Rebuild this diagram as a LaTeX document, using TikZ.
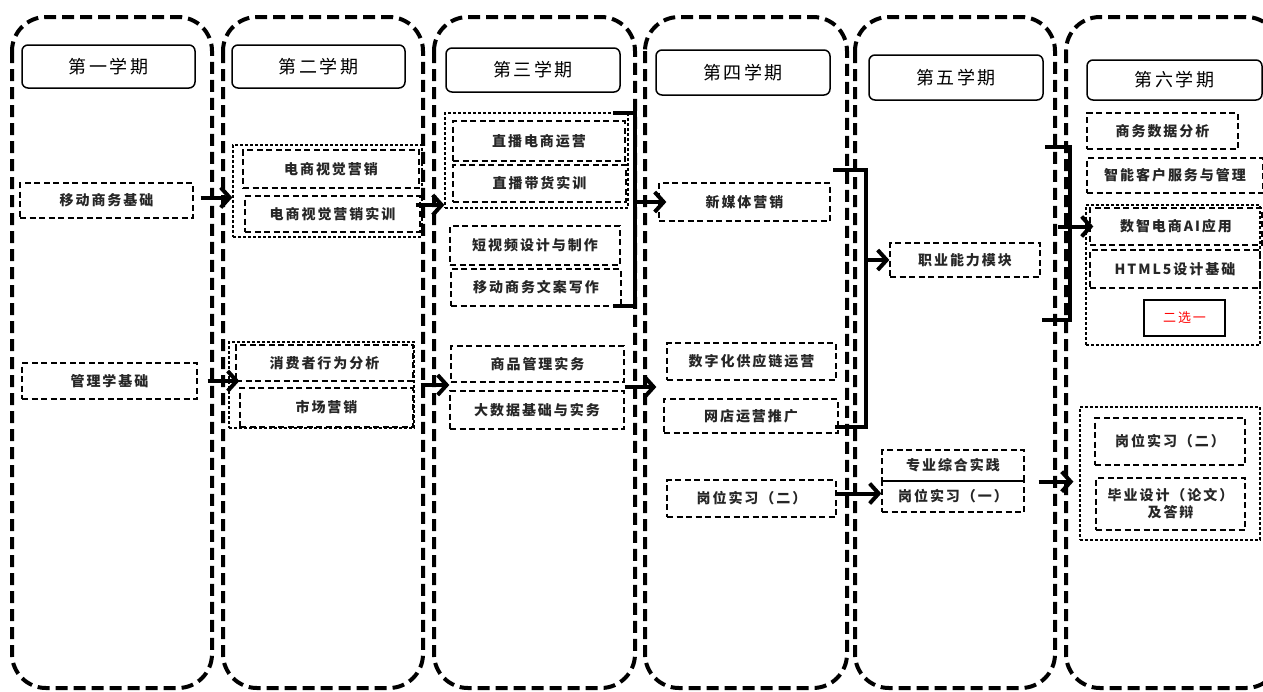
\documentclass[tikz,border=0pt]{standalone}
\usepackage{fontspec}
\setmainfont{Noto Sans CJK SC}
\newfontfamily\ls[LetterSpace=14]{Noto Sans CJK SC}
\usetikzlibrary{arrows.meta}
\begin{document}
\begin{tikzpicture}[x=1pt,y=-1pt,
  frame/.style={line width=4pt, dash pattern=on 12pt off 6pt, rounded corners=34pt},
  sz/.style 2 args={minimum width=#1pt, minimum height=#2pt},
  hbox/.style={draw, line width=1.5pt, rounded corners=6pt, inner sep=0pt, font=\ls\fontsize{18}{21}\selectfont},
  cbox/.style={draw, line width=1.3pt, dash pattern=on 6pt off 3.5pt, inner sep=0pt, font=\ls\bfseries\fontsize{14}{17}\selectfont, text=black!85},
  grp/.style={draw, line width=1.2pt, dash pattern=on 3pt off 2pt, inner sep=0pt},
  arr/.style={line width=4pt, -{Straight Barb[length=9pt,width=20pt]}},
  brk/.style={line width=4pt},
]
\useasboundingbox (0,0) rectangle (1263,691);
% semester frames
\draw[frame] (12,17) rectangle (212,688);
\draw[frame] (223,17) rectangle (423,688);
\draw[frame] (434,17) rectangle (635,688);
\draw[frame] (645,17) rectangle (847,688);
\draw[frame] (855,17) rectangle (1055,688);
\draw[frame] (1066,17) rectangle (1280,688);
% headings
\node[hbox, sz={173}{43}] (h1) at (108.5,66.5) {第一学期};
\node[hbox, sz={173}{43}] (h2) at (318.5,66.5) {第二学期};
\node[hbox, sz={174}{44}] (h3) at (533,70) {第三学期};
\node[hbox, sz={174}{45}] (h4) at (743,72.5) {第四学期};
\node[hbox, sz={174}{45}] (h5) at (956,77.5) {第五学期};
\node[hbox, sz={175}{40}] (h6) at (1174.5,80) {第六学期};
% column 1
\node[cbox, sz={173}{35}] (a1) at (106.5,200.5) {移动商务基础};
\node[cbox, sz={175}{36}] (a2) at (109.5,381) {管理学基础};
% column 2
\node[grp, sz={189}{92}] (g2a) at (327.5,191) {};
\node[cbox, sz={176}{38}] (b1) at (331,169) {电商视觉营销};
\node[cbox, sz={175}{36}] (b2) at (332.5,214) {电商视觉营销实训};
\node[grp, sz={185}{86}] (g2b) at (321.5,385) {};
\node[cbox, sz={177}{36}] (b3) at (324.5,363) {消费者行为分析};
\node[cbox, sz={173}{39}] (b4) at (326.5,407.5) {市场营销};
% column 3
\node[grp, sz={183}{95}] (g3) at (536.5,160.5) {};
\node[cbox, sz={172}{40}] (c1) at (539,141) {直播电商运营};
\node[cbox, sz={173}{37}] (c2) at (539.5,183.5) {直播带货实训};
\node[cbox, sz={170}{39}] (c3) at (535,245.5) {短视频设计与制作};
\node[cbox, sz={170}{37}] (c4) at (536,287.5) {移动商务文案写作};
\node[cbox, sz={173}{36}] (c5) at (537.5,364) {商品管理实务};
\node[cbox, sz={174}{38}] (c6) at (537,410) {大数据基础与实务};
% column 4
\node[cbox, sz={171}{38}] (d1) at (744.5,202) {新媒体营销};
\node[cbox, sz={169}{37}] (d2) at (751.5,361.5) {数字化供应链运营};
\node[cbox, sz={174}{34}] (d3) at (751,416) {网店运营推广};
\node[cbox, sz={169}{37}] (d4) at (751.5,498.5) {岗位实习（二）};
% column 5
\node[cbox, sz={150}{34}] (e1) at (965,260) {职业能力模块};
\node[cbox, sz={142}{31}] (e2) at (953,465.5) {专业综合实践};
\node[cbox, sz={142}{31}] (e3) at (953,496.5) {岗位实习（一）};
% column 6
\node[cbox, sz={151}{36}] (f1) at (1162.5,131) {商务数据分析};
\node[cbox, sz={176}{35}] (f2) at (1175,175.5) {智能客户服务与管理};
\node[grp, sz={174}{140}] (g6a) at (1173,275) {};
\node[cbox, sz={172}{37}] (f3) at (1176,226.5) {数智电商AI应用};
\node[cbox, sz={170}{38}] (f4) at (1175,269) {HTML5设计基础};
\node[draw, line width=1.5pt, sz={81}{36}, inner sep=0pt, text=red, font=\ls\fontsize{13}{16}\selectfont] (f5) at (1184.5,318) {二选一};
\node[grp, sz={180}{133}] (g6b) at (1170,473.5) {};
\node[cbox, sz={150}{47}] (f6) at (1170,441.5) {岗位实习（二）};
\node[cbox, sz={149}{52}, align=center] (f7) at (1170.5,504) {毕业设计（论文）\\及答辩};
% brackets
\coordinate (k3t) at (635,113);
\coordinate (k3b) at (635,306);
\draw[brk] (613,113) -- (k3t) -- (k3b) -- (613,306);
\coordinate (k4t) at (866,170);
\coordinate (k4b) at (866,427);
\draw[brk] (833,170) -- (k4t) -- (k4b) -- (835,427);
\coordinate (k5t) at (1070,147);
\coordinate (k5b) at (1070,320);
\draw[brk] (1045,147) -- (k5t) -- (k5b) -- (1042,320);
% arrows
\draw[arr] ([xshift=7pt,yshift=3pt]a1.east) -- ([yshift=3pt]a1.east -| g2a.west);
\draw[arr] ([xshift=10pt]a2.east) -- ([xshift=4pt]a2.east -| b3.west);
\draw[arr] ([xshift=-5pt,yshift=9pt]b2.east) -- ([yshift=9pt]b2.east -| g3.west);
\draw[arr] ([xshift=6pt]g2b.east) -- (g2b.east -| c6.west);
\draw[arr] (k3t |- d1.west) -- ([xshift=8pt]d1.west);
\draw[arr] ([yshift=-23pt]c5.east) -- ([xshift=-10pt,yshift=-23pt]c5.east -| d2.west);
\draw[arr] (k4t |- e1.west) -- (e1.west);
\draw[arr] ([yshift=5pt]d4.east) -- ([yshift=5pt]d4.east -| e3.west);
\draw[arr] ([xshift=-12pt]k5t |- f3.west) -- ([xshift=4pt]f3.west);
\draw[arr] ([xshift=14pt]e2.south east) -- ([xshift=-6pt]e2.south east -| g6b.west);
\end{tikzpicture}
\end{document}
